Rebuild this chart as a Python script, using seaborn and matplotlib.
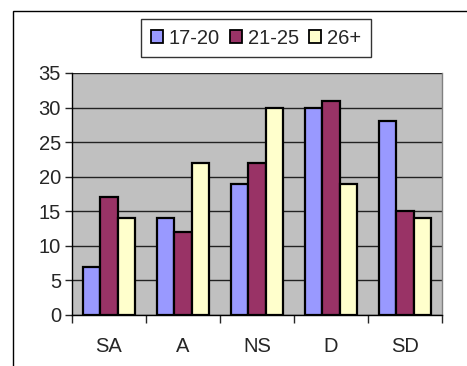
import matplotlib
matplotlib.use("Agg")
import matplotlib.pyplot as plt
import seaborn as sns
import pandas as pd
from matplotlib.patches import Rectangle

categories = ["SA", "A", "NS", "D", "SD"]
series_names = ["17-20", "21-25", "26+"]
vals_17_20 = [7, 14, 19, 30, 28]
vals_21_25 = [17, 12, 22, 31, 15]
vals_26p = [14, 22, 30, 19, 14]
colors = ["#9999FF", "#993366", "#FFFFCC"]

rows = []
for name, vals in zip(series_names, [vals_17_20, vals_21_25, vals_26p]):
    for c, v in zip(categories, vals):
        rows.append({"cat": c, "series": name, "value": v})
df = pd.DataFrame(rows)

sns.set_style("white")
plt.rcParams['font.family'] = ['Liberation Sans', 'DejaVu Sans']

W, H = 467, 366
fig = plt.figure(figsize=(W / 100, H / 100), dpi=100)
ax = fig.add_axes([72 / W, 1 - 315 / H, (442 - 72) / W, (315 - 73) / H])

sns.barplot(data=df, x="cat", y="value", hue="series", order=categories,
            hue_order=series_names, palette=colors, width=0.69, gap=0,
            edgecolor="black", linewidth=1.6, saturation=1, ax=ax, legend=True,
            errorbar=None, zorder=3)

ax.set_facecolor("#C0C0C0")
ax.set_ylim(0, 35)
ax.set_yticks(range(0, 36, 5))
ax.set_xlim(-0.5, 4.5)
ax.grid(axis="y", color="#222222", linewidth=1.0, zorder=0)
ax.set_axisbelow(True)
ax.set_xlabel("")
ax.set_ylabel("")
for s in ["top", "right"]:
    ax.spines[s].set_color("#808080")
    ax.spines[s].set_linewidth(1)
for s in ["left", "bottom"]:
    ax.spines[s].set_color("black")
    ax.spines[s].set_linewidth(1)
ax.spines["top"].set_visible(False)

ax.tick_params(axis="y", direction="out", length=5, width=1, labelsize=14.5, pad=3, left=True)
ax.set_xticks([0, 1, 2, 3, 4])
ax.set_xticks([0.5, 1.5, 2.5, 3.5, 4.5, -0.5], minor=True)
ax.tick_params(axis="x", which="major", length=0, labelsize=14.5, pad=16)
ax.tick_params(axis="x", which="minor", direction="out", length=6, width=1, bottom=True)

handles, labels = ax.get_legend_handles_labels()
ax.get_legend().remove()
leg = fig.legend(handles, labels, ncol=3, loc="center",
                 bbox_to_anchor=((144 + 368) / 2 / W, 1 - 38 / H),
                 frameon=True, fancybox=False, fontsize=14.5,
                 handlelength=0.6, handleheight=0.6, handletextpad=0.3,
                 columnspacing=0.5, borderpad=0.45, borderaxespad=0)
leg.get_frame().set_edgecolor("black")
leg.get_frame().set_linewidth(1)
for h in leg.legend_handles:
    h.set_linewidth(1.3)

fig.add_artist(Rectangle((12.5 / W, -0.2), 2, 1.2 - 10.5 / H,
                         transform=fig.transFigure, fill=False,
                         edgecolor="black", linewidth=1))

fig.savefig("out.png", dpi=100)
